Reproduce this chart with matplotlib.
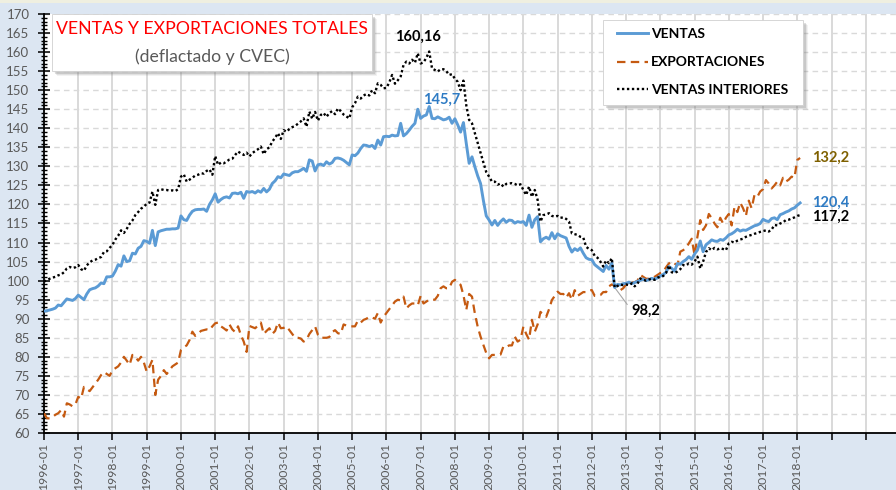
import matplotlib
matplotlib.use('Agg')
import matplotlib.pyplot as plt
from matplotlib.patches import Rectangle
from matplotlib.lines import Line2D
from matplotlib.ticker import MultipleLocator
import numpy as np

# ---------------- DATA (monthly, 1996-01 .. 2018-02) ----------------
ventas = [
    92.0, 92.1, 92.3, 92.5, 92.8, 93.6, 93.4, 94.3, 95.2, 95.0, 94.8, 95.3,        # 1996
    96.2, 95.6, 95.0, 96.5, 97.6, 97.9, 98.1, 98.6, 99.4, 99.2, 101.0, 101.0,      # 1997
    101.2, 102.5, 104.2, 103.8, 106.5, 105.0, 105.2, 107.2, 107.0, 108.5, 109.0, 110.5,  # 1998
    110.3, 109.8, 113.2, 109.2, 112.8, 113.1, 113.3, 113.5, 113.5, 113.6, 113.6, 113.8,  # 1999
    117.0, 116.0, 115.8, 117.2, 118.2, 118.6, 118.7, 118.7, 118.8, 118.2, 120.0, 121.2,  # 2000
    122.8, 120.6, 121.3, 121.8, 122.0, 121.7, 122.9, 123.0, 122.8, 123.2, 121.6, 123.4,  # 2001
    123.2, 123.4, 123.0, 123.6, 123.2, 124.2, 123.3, 124.0, 125.5, 126.2, 127.3, 127.0,  # 2002
    128.0, 127.8, 127.6, 128.3, 128.6, 128.6, 129.0, 129.5, 128.7, 131.7, 131.4, 128.8,  # 2003
    130.4, 130.6, 130.2, 131.2, 130.6, 131.0, 132.1, 132.2, 132.0, 131.6, 131.0, 130.4,  # 2004
    133.0, 132.8, 133.5, 134.7, 135.6, 135.5, 135.2, 135.5, 134.7, 136.9, 135.6, 137.8,  # 2005
    137.9, 137.8, 138.2, 138.0, 138.1, 141.3, 138.0, 138.6, 139.5, 140.5, 141.3, 145.0,  # 2006
    142.6, 143.2, 143.5, 145.7, 142.6, 142.5, 143.0, 142.6, 142.2, 142.4, 142.9, 141.3,  # 2007
    142.5, 140.9, 139.0, 141.5, 136.0, 130.8, 132.5, 129.9, 127.5, 125.5, 121.0, 117.0,  # 2008
    115.9, 114.6, 115.8, 114.5, 115.5, 116.2, 115.3, 115.9, 115.8, 115.1, 115.5, 115.3,  # 2009
    115.5, 114.5, 117.2, 114.0, 116.0, 116.8, 110.2, 111.0, 111.4, 110.9, 112.6, 111.0,  # 2010
    112.3, 111.8, 111.5, 111.2, 109.0, 107.5, 108.4, 107.9, 108.6, 107.2, 106.0, 105.6,  # 2011
    105.5, 104.2, 103.6, 103.0, 102.4, 104.0, 103.0, 104.6, 98.2, 99.0, 98.9, 99.2,     # 2012
    99.3, 99.6, 99.2, 99.5, 99.8, 100.1, 100.4, 100.0, 100.3, 100.6, 100.4, 100.7,      # 2013
    101.2, 101.6, 102.2, 103.7, 103.2, 102.5, 104.5, 104.3, 105.0, 105.5, 106.3, 105.6,  # 2014
    107.0, 108.0, 110.4, 107.6, 109.4, 110.0, 110.7, 110.4, 110.3, 110.8, 110.6, 111.2,  # 2015
    112.0, 112.3, 112.8, 113.5, 113.0, 113.3, 113.2, 113.6, 114.0, 114.4, 114.6, 115.0,  # 2016
    116.1, 115.7, 115.5, 116.3, 116.5, 116.0, 117.3, 117.6, 118.0, 118.3, 118.8, 119.1,  # 2017
    119.8, 120.4,                                                                        # 2018
]

exportaciones = [
    65.2, 63.9, 63.8, 64.2, 64.8, 65.2, 66.0, 64.3, 67.8, 67.5, 67.0, 67.5,        # 1996
    69.5, 69.0, 72.1, 71.5, 71.0, 72.0, 73.0, 74.0, 75.2, 76.0, 75.5, 75.0,        # 1997
    76.5, 77.0, 77.5, 78.5, 80.0, 79.0, 77.9, 80.5, 80.0, 79.0, 80.0, 78.5,        # 1998
    76.1, 77.5, 79.2, 70.0, 74.0, 75.0, 76.5, 75.5, 76.5, 77.5, 78.0, 78.5,        # 1999
    81.8, 82.5, 83.0, 84.4, 86.6, 85.5, 86.0, 86.8, 87.0, 87.2, 87.0, 88.0,        # 2000
    88.8, 89.0, 88.0, 87.5, 86.9, 88.5, 87.2, 86.5, 88.0, 85.7, 84.0, 81.3,        # 2001
    88.1, 87.8, 87.5, 88.2, 89.0, 86.0, 86.8, 87.5, 86.0, 86.8, 89.0, 87.5,        # 2002
    87.6, 88.0, 87.0, 86.0, 85.0, 85.0, 84.8, 84.0, 84.5, 86.0, 87.0, 88.0,        # 2003
    85.8, 85.0, 85.0, 85.0, 85.2, 86.5, 87.0, 86.2, 86.0, 88.5, 88.2, 88.0,        # 2004
    88.0, 88.0, 89.5, 89.0, 89.7, 90.0, 90.5, 90.3, 90.0, 91.5, 89.0, 90.5,        # 2005
    91.5, 92.5, 93.5, 94.5, 95.0, 94.8, 95.8, 92.7, 93.5, 94.0, 94.0, 93.5,        # 2006
    96.0, 94.0, 94.5, 95.0, 95.0, 95.0, 96.0, 98.0, 98.5, 98.0, 98.0, 99.7,        # 2007
    100.2, 99.5, 98.9, 96.2, 92.3, 96.5, 95.8, 91.4, 87.9, 85.3, 83.1, 81.0,       # 2008
    79.6, 80.5, 80.5, 80.5, 80.6, 82.7, 82.5, 83.0, 83.0, 85.3, 84.0, 84.5,        # 2009
    87.9, 86.0, 84.5, 89.7, 86.6, 88.5, 91.8, 91.0, 90.5, 92.5, 94.9, 96.0,        # 2010
    97.1, 96.5, 96.5, 95.5, 96.7, 95.0, 97.5, 96.0, 96.5, 97.0, 97.0, 97.5,        # 2011
    97.5, 96.0, 96.0, 96.2, 97.0, 97.0, 98.5, 99.0, 98.6, 98.0, 97.5, 98.0,        # 2012
    99.0, 99.3, 99.5, 99.6, 100.0, 101.5, 101.0, 100.5, 100.5, 100.8, 101.0, 101.5,  # 2013
    102.0, 102.3, 103.5, 104.5, 105.0, 104.5, 104.0, 107.6, 108.0, 108.5, 109.8, 111.0,  # 2014
    106.7, 111.5, 115.9, 113.3, 114.5, 117.5, 116.4, 115.0, 114.0, 116.5, 115.0, 116.5,  # 2015
    117.5, 114.5, 119.4, 118.0, 120.5, 119.0, 117.0, 121.0, 119.0, 122.5, 122.0, 123.4,  # 2016
    124.0, 126.4, 125.5, 124.2, 125.0, 126.0, 125.0, 127.0, 126.0, 126.5, 127.3, 127.0,  # 2017
    131.7, 132.2,                                                                    # 2018
]

ventas_interiores = [
    99.7, 100.2, 100.5, 100.8, 101.0, 101.4, 101.6, 102.2, 103.2, 103.6, 103.3, 103.5,  # 1996
    104.1, 103.0, 102.6, 104.0, 104.8, 105.3, 105.5, 105.9, 106.2, 107.5, 107.7, 108.6,  # 1997
    109.4, 110.8, 111.8, 113.2, 112.5, 113.6, 114.9, 115.8, 117.2, 118.0, 118.9, 119.4,  # 1998
    120.2, 120.5, 123.4, 119.9, 123.8, 124.0, 123.8, 123.8, 123.6, 123.7, 123.5, 124.0,  # 1999
    127.3, 127.9, 126.0, 126.5, 127.0, 127.6, 127.8, 128.2, 128.1, 128.8, 129.2, 127.8,  # 2000
    132.7, 130.4, 131.0, 130.8, 131.3, 131.8, 132.0, 133.0, 133.9, 133.4, 133.0, 133.6,  # 2001
    132.6, 133.5, 134.0, 134.5, 135.2, 133.2, 134.5, 135.0, 136.5, 137.5, 138.7, 137.2,  # 2002
    139.5, 139.1, 139.8, 140.3, 140.6, 141.2, 141.8, 142.6, 140.4, 144.4, 142.5, 144.3,  # 2003
    142.0, 143.5, 144.0, 143.0, 144.0, 144.5, 143.7, 145.2, 144.5, 143.6, 143.1, 142.6,  # 2004
    145.5, 146.6, 148.3, 147.8, 148.6, 149.0, 148.6, 150.0, 149.2, 151.8, 151.4, 150.5,  # 2005
    150.6, 152.0, 154.0, 151.7, 152.6, 153.6, 156.6, 157.5, 157.0, 158.0, 157.2, 159.7,  # 2006
    157.0, 157.3, 158.5, 160.16, 155.7, 155.3, 154.9, 155.5, 155.5, 155.0, 154.0, 154.2,  # 2007
    153.0, 152.2, 150.0, 152.5, 146.0, 142.2, 141.3, 138.7, 136.0, 133.5, 131.0, 128.5,  # 2008
    127.3, 126.0, 126.0, 125.2, 125.5, 124.7, 125.4, 125.5, 125.6, 125.4, 125.0, 125.3,  # 2009
    123.8, 122.5, 124.7, 122.0, 123.8, 121.2, 115.5, 117.2, 117.4, 117.7, 117.0, 116.8,  # 2010
    117.0, 116.5, 116.6, 116.2, 115.5, 112.4, 112.2, 112.0, 111.5, 111.3, 108.9, 108.3,  # 2011
    108.0, 106.5, 106.0, 105.0, 103.7, 105.3, 104.6, 105.9, 98.2, 98.6, 99.0, 98.8,     # 2012
    99.0, 98.8, 99.3, 98.5, 99.2, 100.6, 100.2, 100.0, 100.3, 100.5, 100.2, 100.8,      # 2013
    101.0, 101.2, 102.0, 104.0, 102.2, 102.0, 102.4, 103.0, 104.1, 104.0, 104.5, 104.2,  # 2014
    105.0, 106.3, 103.2, 105.0, 107.5, 108.5, 108.0, 108.6, 108.2, 108.5, 108.3, 108.0,  # 2015
    109.8, 110.2, 110.0, 110.5, 110.8, 111.0, 111.5, 111.8, 112.0, 112.3, 112.5, 112.8,  # 2016
    113.0, 113.2, 112.9, 113.4, 114.6, 114.5, 115.0, 115.3, 115.9, 116.0, 116.3, 116.6,  # 2017
    117.0, 117.2,                                                                        # 2018
]

year_labels = ["1996-01", "1997-01", "1998-01", "1999-01", "2000-01", "2001-01",
               "2002-01", "2003-01", "2004-01", "2005-01", "2006-01", "2007-01",
               "2008-01", "2009-01", "2010-01", "2011-01", "2012-01", "2013-01",
               "2014-01", "2015-01", "2016-01", "2017-01", "2018-01", "", ""]

series_names = ["VENTAS", "EXPORTACIONES", "VENTAS INTERIORES"]
title_line1 = "VENTAS Y EXPORTACIONES TOTALES"
title_line2 = "(deflactado y CVEC)"

# ---------------- STYLE ----------------
plt.rcParams['font.family'] = ['Lato', 'DejaVu Sans']

W, H = 896, 490
fig = plt.figure(figsize=(W / 100, H / 100), dpi=100)
fig.patch.set_facecolor('#dce6f2')


def fx(px):
    return px / W


def fy(py):
    return 1 - py / H


# top thin strip
fig.add_artist(Rectangle((0, fy(3)), 1, 3 / H, transform=fig.transFigure,
                         facecolor='#efefe0', edgecolor='none', zorder=0))

ax = fig.add_axes([fx(44), fy(433), fx(896) - fx(44), fy(14) - fy(433)])
ax.set_facecolor('white')

x = np.arange(len(ventas))

style_exp = dict(color='#c55a11', lw=1.6, linestyle=(0, (3.8, 2.4)))
style_ven = dict(color='#5b9bd5', lw=2.1, linestyle='-')
style_int = dict(color='black', lw=1.7, linestyle=(0, (1, 1.1)))

ax.plot(x, exportaciones, **style_exp, zorder=3)
ax.plot(x, ventas, **style_ven, zorder=4)
ax.plot(x, ventas_interiores, **style_int, zorder=5)

ax.set_xlim(0, 298.6)
ax.set_ylim(60, 170)

ax.set_xticks(np.arange(len(year_labels)) * 12)
ax.set_xticklabels(year_labels, rotation=90, va='top', ha='center')
ax.yaxis.set_major_locator(MultipleLocator(5))
ax.yaxis.set_minor_locator(MultipleLocator(1))

ax.tick_params(axis='x', direction='out', length=5, width=1.1, color='black',
               labelsize=8.8, labelcolor='#595959', pad=2)
ax.tick_params(axis='y', which='major', direction='inout', length=9, width=1.1,
               color='black', labelsize=9.5, labelcolor='#595959', pad=6)
ax.tick_params(axis='y', which='minor', direction='inout', length=5, width=1.0,
               color='black')

for s in ['top', 'right']:
    ax.spines[s].set_visible(False)
for s in ['left', 'bottom']:
    ax.spines[s].set_color('black')
    ax.spines[s].set_linewidth(1.3)

ax.set_axisbelow(True)
ax.yaxis.grid(True, which='major', color='#d9d9d9', lw=1.0, linestyle=(0, (4, 3)))
ax.xaxis.grid(True, which='major', color='#d9d9d9', lw=1.4, linestyle='-')

# ---------------- annotations ----------------
bold = dict(fontsize=10.5, fontweight='bold')
i_pk_int = int(np.argmax(ventas_interiores))
ax.annotate(f"{ventas_interiores[i_pk_int]:.2f}".replace('.', ','),
            xy=(i_pk_int, ventas_interiores[i_pk_int]), xytext=(-11, 15),
            textcoords='offset pixels', ha='center', va='center', color='black', **bold)
i_pk_ven = int(np.argmax(ventas))
ax.annotate(f"{ventas[i_pk_ven]:.1f}".replace('.', ','),
            xy=(i_pk_ven, ventas[i_pk_ven]), xytext=(12, 7),
            textcoords='offset pixels', ha='center', va='center', color='#2e7bc4', **bold)
i_min = 200
ax.annotate(f"{ventas[i_min]:.1f}".replace('.', ','),
            xy=(i_min, ventas[i_min]), xytext=(17, -23),
            textcoords='offset pixels', ha='left', va='center', color='black',
            arrowprops=dict(arrowstyle='-', color='#a6a6a6', lw=0.8,
                            shrinkA=2, shrinkB=0, relpos=(0, 0.5)), **bold)
last = len(ventas) - 1
ax.annotate(f"{exportaciones[last]:.1f}".replace('.', ','),
            xy=(last, exportaciones[last]), xytext=(12, 0),
            textcoords='offset pixels', ha='left', va='center', color='#7f6000', **bold)
ax.annotate(f"{ventas[last]:.1f}".replace('.', ','),
            xy=(last, ventas[last]), xytext=(12, 0),
            textcoords='offset pixels', ha='left', va='center', color='#2e7bc4', **bold)
ax.annotate(f"{ventas_interiores[last]:.1f}".replace('.', ','),
            xy=(last, ventas_interiores[last]), xytext=(12, -2),
            textcoords='offset pixels', ha='left', va='center', color='black', **bold)


# ---------------- boxes (title & legend) with shadow ----------------
def shadow_box(x0, y0, x1, y1):
    for k, a in [(5, 0.10), (4, 0.15), (3, 0.25)]:
        fig.add_artist(Rectangle((fx(x0 + k), fy(y1 + k)), (x1 - x0) / W, (y1 - y0) / H,
                                 transform=fig.transFigure, facecolor='#808080',
                                 edgecolor='none', alpha=a, zorder=5))
    fig.add_artist(Rectangle((fx(x0), fy(y1)), (x1 - x0) / W, (y1 - y0) / H,
                             transform=fig.transFigure, facecolor='white',
                             edgecolor='#d0d0d0', lw=0.6, zorder=6))


shadow_box(52, 14, 372, 71)
fig.text(fx(212), fy(29.5), title_line1, color='#ff0000', fontsize=12.7,
         ha='center', va='center', zorder=7)
fig.text(fx(212), fy(56.5), title_line2, color='#595959', fontsize=12.7,
         ha='center', va='center', zorder=7)

shadow_box(603, 20, 803, 105)
styles = [style_ven, style_exp, style_int]
rows = [33.5, 62, 89.5]
for name, st, yy in zip(series_names, styles, rows):
    fig.add_artist(Line2D([fx(617), fx(648)], [fy(yy), fy(yy)], transform=fig.transFigure,
                          zorder=7, **st))
    fig.text(fx(651), fy(yy), name, color='black', fontsize=10, fontweight='bold',
             ha='left', va='center', zorder=7)

fig.savefig('out.png', dpi=100, facecolor=fig.get_facecolor())
